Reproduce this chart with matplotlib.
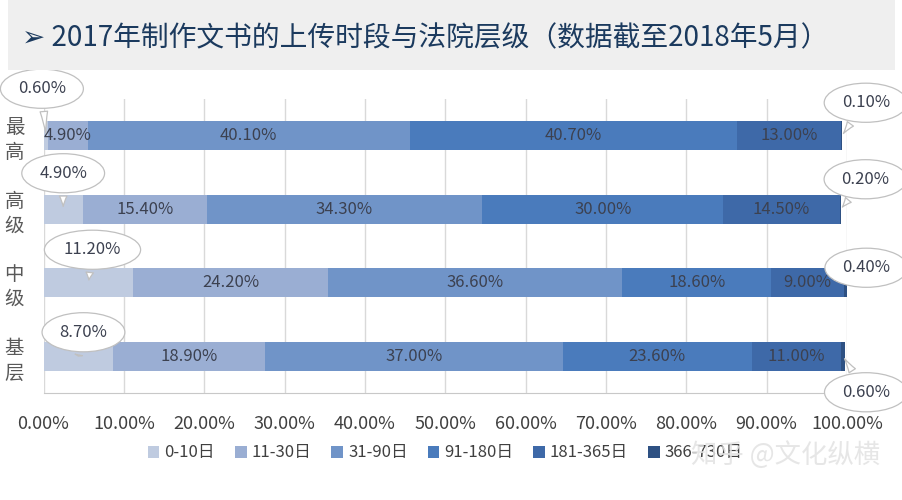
import numpy as np
import matplotlib.pyplot as plt
from matplotlib.patches import Rectangle

plt.rcParams['font.family'] = ['Liberation Sans Narrow', 'Noto Sans CJK SC', 'DejaVu Sans']

# data (percent)
courts = ['最高', '高级', '中级', '基层']
periods = ['0-10日', '11-30日', '31-90日', '91-180日', '181-365日', '366-730日']
d_0_10 = [0.6, 4.9, 11.2, 8.7]
d_11_30 = [4.9, 15.4, 24.2, 18.9]
d_31_90 = [40.1, 34.3, 36.6, 37.0]
d_91_180 = [40.7, 30.0, 18.6, 23.6]
d_181_365 = [13.0, 14.5, 9.0, 11.0]
d_366_730 = [0.1, 0.2, 0.4, 0.6]
xticks = [0, 10, 20, 30, 40, 50, 60, 70, 80, 90, 100]

colors = ['#bfcbe0', '#9aaed3', '#7094c8', '#4a7bbc', '#3e69a8', '#2e5183']
series = [d_0_10, d_11_30, d_31_90, d_91_180, d_181_365, d_366_730]

fig = plt.figure(figsize=(9.02, 5.0), dpi=100)
W, H = 902, 500

# title band
fig.patches.append(Rectangle((8 / W, 1 - 70 / H), 887 / W, 70 / H, transform=fig.transFigure,
                             facecolor='#efefef', edgecolor='none', zorder=0))
fig.text(22 / W, 1 - 38 / H, '➢ 2017年制作文书的上传时段与法院层级（数据截至2018年5月）',
         family=['Noto Sans CJK SC', 'DejaVu Sans'], fontsize=20, color='#1b3a5e',
         ha='left', va='center')

ax = fig.add_axes([43.5 / W, (500 - 393) / H, (847 - 43.5) / W, (393 - 99) / H])
y = np.arange(len(courts))
left = np.zeros(len(courts))
for vals, c, name in zip(series, colors, periods):
    ax.barh(y, vals, left=left, height=0.4, color=c, label=name, zorder=2)
    left = left + np.array(vals)

ax.set_ylim(len(courts) - 0.5, -0.5)
ax.set_xlim(0, 100)
ax.set_xticks(xticks)
ax.set_xticklabels(['%.2f%%' % v for v in xticks], fontsize=13, color='#404040')
ax.set_yticks(y)
ax.set_yticklabels([c[0] + '\n' + c[1] for c in courts], fontsize=14, color='#595959',
                   family=['Noto Sans CJK SC', 'DejaVu Sans'], linespacing=1.25)
ax.tick_params(axis='both', length=0)
ax.tick_params(axis='x', pad=16)
ax.tick_params(axis='y', pad=14)
ax.xaxis.grid(True, color='#d9d9d9', linewidth=1, zorder=0)
ax.set_axisbelow(True)
for s in ['top', 'right', 'left']:
    ax.spines[s].set_visible(False)
ax.spines['bottom'].set_color('#c8c8c8')

txt = '#3c4150'
# middle segment labels
for k in range(1, 5):
    starts = np.sum(series[:k], axis=0)
    for i in range(len(courts)):
        v = series[k][i]
        ax.text(starts[i] + v / 2, y[i], '%.2f%%' % v, ha='center', va='center',
                fontsize=12, color=txt, zorder=3)

bubble = dict(boxstyle='ellipse,pad=0.32', fc='white', ec='#c0c0c0', lw=0.9)
arrow = dict(arrowstyle='wedge,tail_width=0.45,shrink_factor=0.4', fc='white', ec='#c0c0c0', lw=0.9)

# first segment bubbles
first_off = [(-4, 47), (0, 36), (4, 33), (5, 24)]
for i in range(len(courts)):
    v = series[0][i]
    ax.annotate('%.2f%%' % v, xy=(v / 2, y[i]), xytext=first_off[i], textcoords='offset pixels',
                ha='center', va='center', fontsize=12, color=txt, bbox=bubble,
                arrowprops=arrow, zorder=4, annotation_clip=False)

# last segment bubbles
last_off = [(24, 33), (25, 30), (21, 15), (23, -36)]
starts = np.sum(series[:5], axis=0)
for i in range(len(courts)):
    v = series[5][i]
    ax.annotate('%.2f%%' % v, xy=(starts[i] + v / 2, y[i]), xytext=last_off[i],
                textcoords='offset pixels', ha='center', va='center', fontsize=12, color=txt,
                bbox=bubble, arrowprops=arrow, zorder=4, annotation_clip=False)

leg = ax.legend(loc='center', bbox_to_anchor=(0.5, (393 - 453) / (393 - 99)), ncol=6,
                frameon=False, fontsize=12, handlelength=0.7, handleheight=0.7,
                handletextpad=0.3, columnspacing=1.2)
for t in leg.get_texts():
    t.set_color('#404040')

fig.text(880 / W, 1 - 455 / H, '知乎 @文化纵横', family=['Noto Sans CJK SC', 'DejaVu Sans'],
         fontsize=19, color='#e2e2e2', alpha=0.85, ha='right', va='center', zorder=10)

fig.savefig('out.png', dpi=100)
